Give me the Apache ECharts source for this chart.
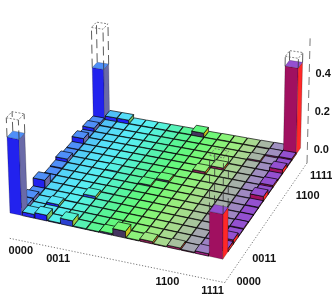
<!DOCTYPE html>
<html><head><meta charset="utf-8">
<style>html,body{margin:0;padding:0;background:#fff}#c{width:332px;height:299px}</style>
<script src="https://cdn.jsdelivr.net/npm/echarts@6/dist/echarts.min.js"></script>
</head><body><div id="c"></div>
<script>
const basisLabels=['0000','0011','1100','1111'];
const frontLabelAt=[0.7,3.6,11.7,14.9];
const sideLabelAt=[0.5,3.5,12.5,15.5];
const zTicks=[0,0.2,0.4];
const r00=[.40,.02,.03,.004,.03,.004,.003,.008,.035,.003,.012,.003,.01,.004,.012,.225];
const r01=[.02,.005,.004,.003,.004,.003,.003,.003,.003,.003,.003,.003,.003,.003,.004,.016];
const r02=[.02,.004,.014,.003,.003,.003,.003,.003,.003,.003,.003,.003,.003,.003,.004,.022];
const r03=[.004,.003,.003,.004,.003,.003,.003,.003,.003,.003,.003,.003,.003,.003,.003,.004];
const r04=[.045,.004,.003,.003,.014,.003,.003,.003,.003,.003,.003,.003,.003,.003,.003,.006];
const r05=[.005,.003,.003,.003,.003,.004,.003,.003,.003,.003,.003,.003,.003,.003,.003,.004];
const r06=[.004,.003,.003,.003,.003,.003,.003,.003,.003,.003,.003,.003,.003,.003,.003,.004];
const r07=[.006,.003,.003,.003,.003,.003,.003,.008,.003,.003,.003,.003,.003,.003,.003,.005];
const r08=[.02,.003,.003,.003,.006,.003,.003,.003,.01,.003,.003,.003,.003,.003,.003,.025];
const r09=[.004,.003,.003,.003,.003,.003,.003,.003,.003,.003,.003,.003,.003,.003,.003,.004];
const r10=[.004,.003,.003,.003,.003,.003,.003,.003,.003,.003,.014,.003,.003,.003,.003,.01];
const r11=[.03,.003,.003,.003,.003,.003,.003,.003,.003,.003,.003,.012,.003,.003,.003,.005];
const r12=[.004,.003,.003,.003,.003,.003,.003,.003,.003,.003,.003,.003,.004,.003,.003,.022];
const r13=[.02,.003,.003,.003,.003,.003,.003,.003,.003,.003,.003,.003,.003,.008,.003,.006];
const r14=[.012,.004,.003,.003,.003,.003,.003,.003,.003,.003,.003,.003,.003,.003,.008,.01];
const r15=[.28,.022,.022,.004,.004,.004,.004,.004,.024,.003,.004,.004,.004,.005,.006,.45];
const rows=[r00,r01,r02,r03,r04,r05,r06,r07,r08,r09,r10,r11,r12,r13,r14,r15];
const idealCells=[[0,0],[15,0],[0,15],[15,15]];
const idealHeight=0.5;
const topColors=['#4f8ff8','#50c0f8','#55dcf8','#58e8f8','#58f0f0','#55f2d8','#55f2b8','#58f498','#60f880','#70f878','#88f478','#9cec80','#a8d890','#a8b8a4','#a090c0','#9450d0'];
const frontColors=['#2222ee','#2828f0','#2020f0','#2433e0','#2a40d0','#303ab0','#383590','#403070','#453560','#602a58','#802050','#902058','#982060','#a02070','#a02080','#a01060'];
const rightColors=['#6a6aa8','#6a90a0','#70c060','#88c850','#a0d040','#b0d030','#b8d028','#c0cc24','#c8c820','#d8b020','#e89020','#f07020','#f85020','#ff4020','#ff3030','#ff2828'];

function topColor(x,y){
  if(x===0||x===15) return topColors[x];
  const t=x+(15-y)*0.08*Math.min(1,(15-x)/5);
  const i=Math.floor(t),f=t-i;
  const c=k=>[1,3,5].map(s=>parseInt(topColors[k].substr(s,2),16));
  const a=c(i),b=c(Math.min(15,i+1));
  return 'rgb('+a.map((v,k)=>Math.round(v+(b[k]-v)*f)).join(',')+')';
}
const quad=[[9.5,213],[223,259.5],[301,148],[98,112]];
const N=16, barSize=0.95, zScale=-195, cz=-0.04, xCentre=190;
const H=(function(){
  const [p0,p1,p2,p3]=quad;
  const dx1=p1[0]-p2[0],dx2=p3[0]-p2[0],sx=p0[0]-p1[0]+p2[0]-p3[0];
  const dy1=p1[1]-p2[1],dy2=p3[1]-p2[1],sy=p0[1]-p1[1]+p2[1]-p3[1];
  const den=dx1*dy2-dx2*dy1;
  const g=(sx*dy2-dx2*sy)/den,h=(dx1*sy-sx*dy1)/den;
  return {a:p1[0]-p0[0]+g*p1[0],b:p3[0]-p0[0]+h*p3[0],c:p0[0],
          d:p1[1]-p0[1]+g*p1[1],e:p3[1]-p0[1]+h*p3[1],f:p0[1],g,h};
})();
function project(x,y,z){
  const u=x/N,v=y/N,w=H.g*u+H.h*v+1+cz*z;
  return [(H.a*u+H.b*v+H.c+cz*xCentre*z)/w,(H.d*u+H.e*v+H.f+zScale*z)/w];
}
const cells=[];
for(let y=N-1;y>=0;y--)for(let x=0;x<N;x++)cells.push([x,y,rows[y][x],idealCells.some(c=>c[0]===x&&c[1]===y)?1:0]);

function barItem(params,api){
  const x=api.value(0),y=api.value(1),h=api.value(2),id=api.value(3);
  const m=(1-barSize)/2,x0=x+m,x1=x+1-m,y0=y+m,y1=y+1-m;
  const P=(a,b,c)=>api.coord(project(a,b,c));
  const stroke={stroke:h>0.1?'rgba(0,0,0,0.3)':'rgba(0,0,0,0.8)',lineWidth:h>0.1?0.7:0.85};
  const poly=(pts,fill)=>({type:'polygon',shape:{points:pts},style:Object.assign({fill},stroke)});
  const kids=[
    poly([P(x0,y0,0),P(x1,y0,0),P(x1,y0,h),P(x0,y0,h)],frontColors[x]),
    poly([P(x1,y0,0),P(x1,y1,0),P(x1,y1,h),P(x1,y0,h)],rightColors[x]),
    poly([P(x0,y0,h),P(x1,y0,h),P(x1,y1,h),P(x0,y1,h)],topColor(x,y))
  ];
  if(id){
    const t=idealHeight,dash={stroke:'#333',lineWidth:0.8,lineDash:[9,5],fill:null};
    [[x0,y0],[x1,y0],[x1,y1],[x0,y1]].forEach(c=>{
      const a=P(c[0],c[1],h),b=P(c[0],c[1],t);
      kids.push({type:'line',shape:{x1:a[0],y1:a[1],x2:b[0],y2:b[1]},style:dash});
    });
    kids.push({type:'polygon',shape:{points:[P(x0,y0,t),P(x1,y0,t),P(x1,y1,t),P(x0,y1,t)]},style:{fill:null,stroke:'#666',lineWidth:0.8,lineDash:[2,1.5]}});
  }
  return {type:'group',children:kids};
}
const box={x0:0.7,x1:16.5,y0L:-1.5,y0:-1.0,y1:15.9,z0:-0.07,z1:0.58};
const frontY=x=>box.y0L+(box.y0-box.y0L)*(x-box.x0)/(box.x1-box.x0);
const axisSegs=[
  [box.x0,box.y0L,box.z0,box.x1,box.y0,box.z0],
  [box.x1,box.y0,box.z0,box.x1,box.y1,box.z0],
  [box.x1,box.y1,box.z0,box.x1,box.y1,box.z1]
];
function axisItem(params,api){
  const a=api.coord(project(api.value(0),api.value(1),api.value(2)));
  const b=api.coord(project(api.value(3),api.value(4),api.value(5)));
  const vertical=params.dataIndex===2;
  return {type:'line',shape:{x1:a[0],y1:a[1],x2:b[0],y2:b[1]},
    style:{stroke:'#555',lineWidth:0.8,lineDash:vertical?[8,5]:[1.2,1.8],fill:null}};
}
const FONT='bold 11px "Liberation Sans", Arial, sans-serif';
function textEl(p,dx,dy,s,api){
  const c=api.coord(p);
  return {type:'text',x:c[0]+dx,y:c[1]+dy,style:{text:s,font:FONT,fill:'#111',textAlign:'center',textVerticalAlign:'middle'}};
}
function labelItem(params,api){
  const kids=[];
  basisLabels.forEach((s,k)=>{
    kids.push(textEl(project(frontLabelAt[k],frontY(frontLabelAt[k]),box.z0),11,13,s,api));
    kids.push(textEl(project(box.x1,sideLabelAt[k],box.z0),16,10.5,s,api));
  });
  zTicks.forEach(t=>{ kids.push(textEl(project(box.x1,box.y1,t),14,0,t.toFixed(1),api)); });
  return {type:'group',children:kids};
}
const chart=echarts.init(document.getElementById('c'),null,{renderer:'canvas'});
chart.setOption({
  animation:false,
  backgroundColor:'#fff',
  grid:{left:0,right:0,top:0,bottom:0},
  xAxis:{type:'value',min:0,max:332,show:false},
  yAxis:{type:'value',min:0,max:299,inverse:true,show:false},
  series:[
    {type:'custom',coordinateSystem:'cartesian2d',renderItem:axisItem,data:axisSegs,clip:false,silent:true,z:1},
    {type:'custom',coordinateSystem:'cartesian2d',renderItem:barItem,data:cells,clip:false,silent:true,z:2},
    {type:'custom',coordinateSystem:'cartesian2d',renderItem:labelItem,data:[[0]],clip:false,silent:true,z:3}
  ]
});
</script></body></html>
